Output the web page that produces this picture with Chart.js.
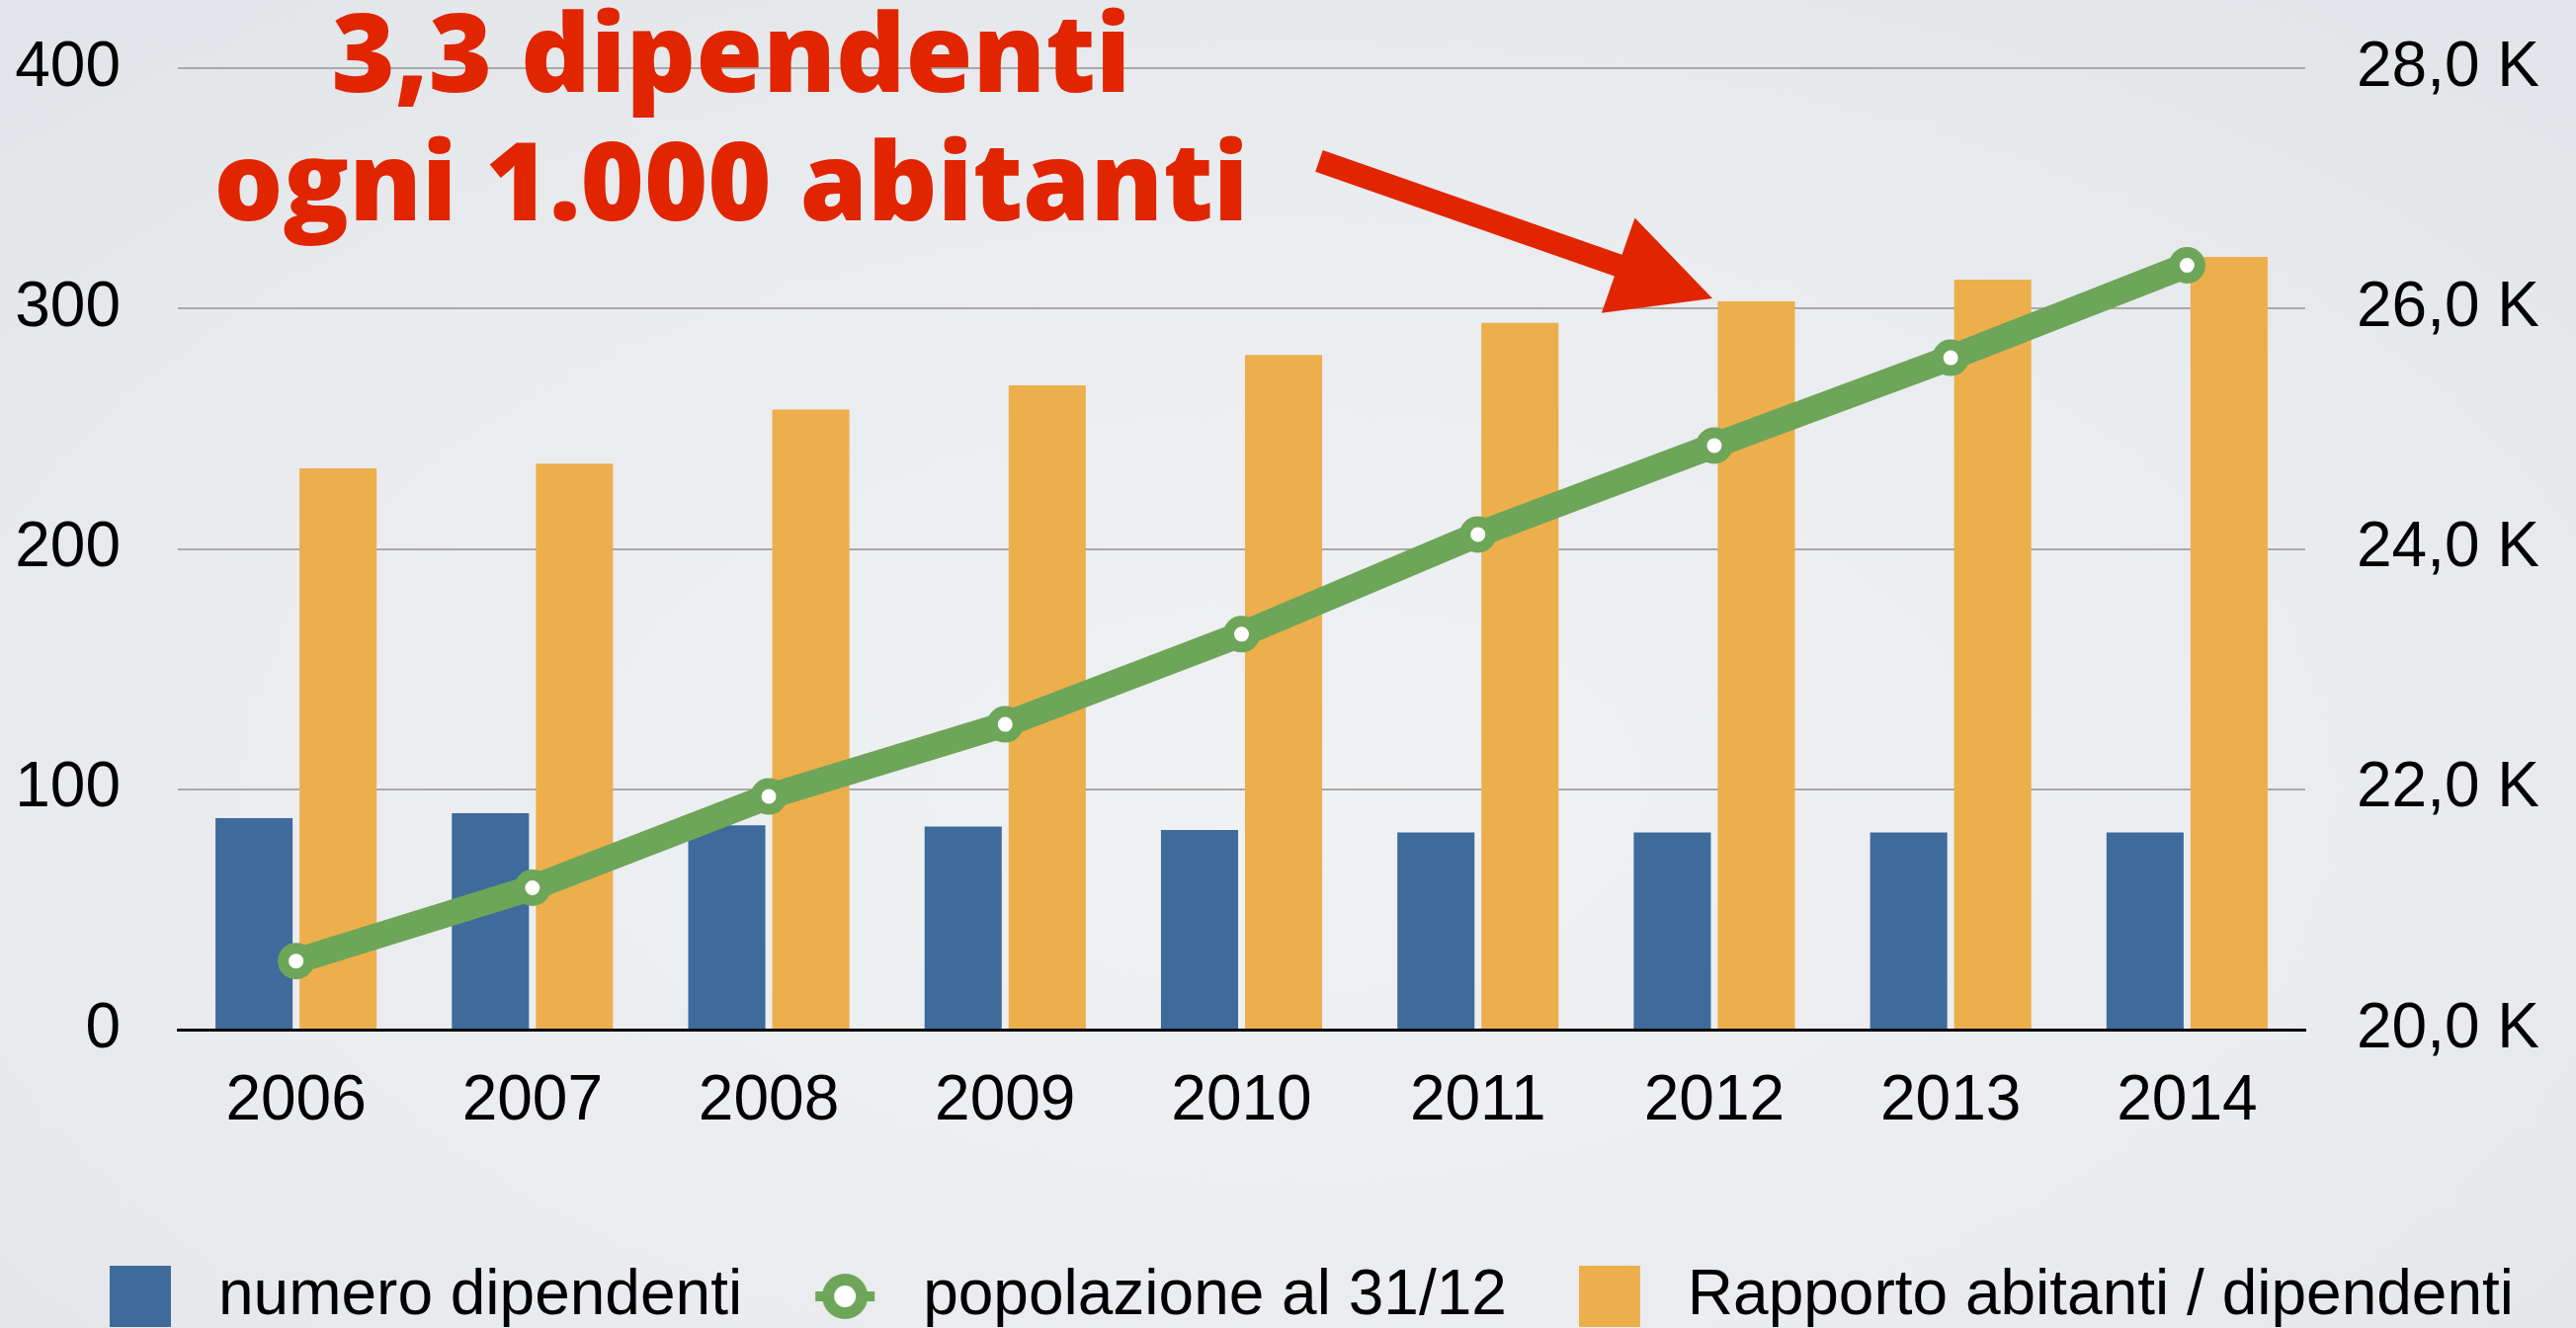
<!DOCTYPE html>
<html>
<head>
<meta charset="utf-8">
<script src="https://cdn.jsdelivr.net/npm/chart.js@4.4.1/dist/chart.umd.min.js"></script>
<style>
  html, body { margin: 0; padding: 0; width: 2607px; height: 1344px; overflow: hidden; }
  body { background: radial-gradient(ellipse 75% 80% at 50% 60%, #f0f1f3 0%, #eaecef 55%, #e1e4e8 100%); }
  #wrap { position: relative; width: 2607px; height: 1344px; }
</style>
</head>
<body>
<div id="wrap"><canvas id="c" width="2607" height="1344"></canvas></div>
<script>
// ---- data ----
const years = ['2006', '2007', '2008', '2009', '2010', '2011', '2012', '2013', '2014'];
const numeroDipendenti = [88, 90, 85, 84.5, 83, 82, 82, 82, 82];
const popolazione = [20570, 21180, 21940, 22540, 23290, 24120, 24860, 25590, 26360];
const rapporto = [233.5, 235.5, 258, 268, 280.7, 294, 303, 312, 321.5];
const leftTicks = [0, 100, 200, 300, 400];
const rightTickLabels = ['20,0 K', '22,0 K', '24,0 K', '26,0 K', '28,0 K'];
const seriesNames = ['numero dipendenti', 'popolazione al 31/12', 'Rapporto abitanti / dipendenti'];
const titleLines = ['3,3 dipendenti', 'ogni 1.000 abitanti'];

// ---- styles ----
const BLUE = '#3e6b9c';
const ORANGE = '#ecaf4b';
const GREEN = '#6da559';
const RED = '#e12500';

Chart.defaults.font.family = "'Liberation Sans', Arial, Helvetica, sans-serif";
Chart.defaults.font.size = 64;
Chart.defaults.color = '#000';

// legend marker images
function boxMarker(color) {
  const c = document.createElement('canvas');
  c.width = 78; c.height = 62;
  const g = c.getContext('2d');
  g.fillStyle = color;
  g.fillRect(0, 0, 62, 62);
  return c;
}
function ringMarker(color) {
  const c = document.createElement('canvas');
  c.width = 78; c.height = 62;
  const g = c.getContext('2d');
  g.strokeStyle = color;
  g.lineWidth = 10;
  g.beginPath(); g.moveTo(1, 31); g.lineTo(61, 31); g.stroke();
  g.beginPath(); g.arc(31, 31, 17, 0, Math.PI * 2);
  g.fillStyle = '#fff'; g.fill();
  g.lineWidth = 12; g.stroke();
  return c;
}
const markers = [boxMarker(BLUE), ringMarker(GREEN), boxMarker(ORANGE)];

// annotation: title + arrow (positions in axis units)
const titleAnchor = { x: 1.841, y1: 390, y2: 336.7 };
const arrowTail = { x: 4.328, y: 361.4 };
const arrowTip = { x: 5.992, y: 304.2 };

const annotationPlugin = {
  id: 'annot',
  afterDraw(chart) {
    const ctx = chart.ctx;
    const xs = chart.scales.x, ys = chart.scales.y;
    ctx.save();
    ctx.fillStyle = RED;
    ctx.font = "800 110px 'Open Sans', 'DejaVu Sans', sans-serif";
    ctx.textAlign = 'center';
    ctx.textBaseline = 'alphabetic';
    const tx = xs.getPixelForValue(titleAnchor.x);
    ctx.fillText(titleLines[0], tx, ys.getPixelForValue(titleAnchor.y1));
    ctx.fillText(titleLines[1], tx, ys.getPixelForValue(titleAnchor.y2));

    const ax = xs.getPixelForValue(arrowTail.x), ay = ys.getPixelForValue(arrowTail.y);
    const bx = xs.getPixelForValue(arrowTip.x), by = ys.getPixelForValue(arrowTip.y);
    const len = Math.hypot(bx - ax, by - ay);
    const ux = (bx - ax) / len, uy = (by - ay) / len;
    const px = -uy, py = ux;
    const headLen = 101, headHalf = 51, shaftHalf = 11.5;
    const hx = bx - ux * headLen, hy = by - uy * headLen;
    ctx.beginPath();
    ctx.moveTo(ax + px * shaftHalf, ay + py * shaftHalf);
    ctx.lineTo(hx + px * shaftHalf, hy + py * shaftHalf);
    ctx.lineTo(hx + px * headHalf, hy + py * headHalf);
    ctx.lineTo(bx, by);
    ctx.lineTo(hx - px * headHalf, hy - py * headHalf);
    ctx.lineTo(hx - px * shaftHalf, hy - py * shaftHalf);
    ctx.lineTo(ax - px * shaftHalf, ay - py * shaftHalf);
    ctx.closePath();
    ctx.fill();
    ctx.restore();
  }
};

function noPad(s) { s.paddingTop = 0; s.paddingBottom = 0; s.paddingLeft = 0; s.paddingRight = 0; }

new Chart(document.getElementById('c'), {
  type: 'bar',
  data: {
    labels: years,
    datasets: [
      { type: 'bar', label: seriesNames[0], data: numeroDipendenti, backgroundColor: BLUE, borderWidth: 0,
        yAxisID: 'y', order: 1, categoryPercentage: 0.711, barPercentage: 0.918 },
      { type: 'line', label: seriesNames[1], data: popolazione, yAxisID: 'y2', order: 0,
        borderColor: GREEN, borderWidth: 26, tension: 0, fill: false,
        pointRadius: 13, pointBorderWidth: 11, pointBackgroundColor: '#ffffff', pointBorderColor: GREEN },
      { type: 'bar', label: seriesNames[2], data: rapporto, backgroundColor: ORANGE, borderWidth: 0,
        yAxisID: 'y', order: 1, categoryPercentage: 0.711, barPercentage: 0.918 }
    ]
  },
  options: {
    responsive: false,
    animation: false,
    devicePixelRatio: 1,
    layout: { padding: { left: 0, right: -48, top: 69, bottom: -10 } },
    scales: {
      x: {
        z: 1,
        grid: { display: false, drawTicks: false, tickLength: 0 },
        border: { display: true, color: '#000', width: 3 },
        ticks: { padding: 35, maxRotation: 0, autoSkip: false },
        afterFit: (s) => { s.height = 165; noPad(s); }
      },
      y: {
        position: 'left', min: 0, max: 400,
        ticks: { stepSize: 100, padding: 58, callback: (v, i) => String(leftTicks[i]) },
        grid: { color: '#a9a9a9', lineWidth: 2, drawTicks: false, tickLength: 0 },
        border: { display: false },
        afterFit: (s) => { s.width = 180; noPad(s); }
      },
      y2: {
        position: 'right', min: 20000, max: 28000,
        ticks: { stepSize: 2000, padding: 52, callback: (v, i) => rightTickLabels[i] },
        grid: { drawOnChartArea: false, drawTicks: false, tickLength: 0 },
        border: { display: false },
        afterFit: (s) => { s.width = 322; noPad(s); }
      }
    },
    plugins: {
      tooltip: { enabled: false },
      legend: {
        position: 'bottom',
        labels: {
          usePointStyle: true,
          pointStyleWidth: 78,
          boxHeight: 62,
          padding: 73,
          color: '#000',
          font: { size: 64 },
          sort: (a, b) => a.datasetIndex - b.datasetIndex,
          generateLabels: (chart) => {
            const items = Chart.defaults.plugins.legend.labels.generateLabels(chart);
            items.forEach((it) => { it.pointStyle = markers[it.datasetIndex]; });
            return items;
          }
        }
      }
    }
  },
  plugins: [annotationPlugin]
});
</script>
</body>
</html>
